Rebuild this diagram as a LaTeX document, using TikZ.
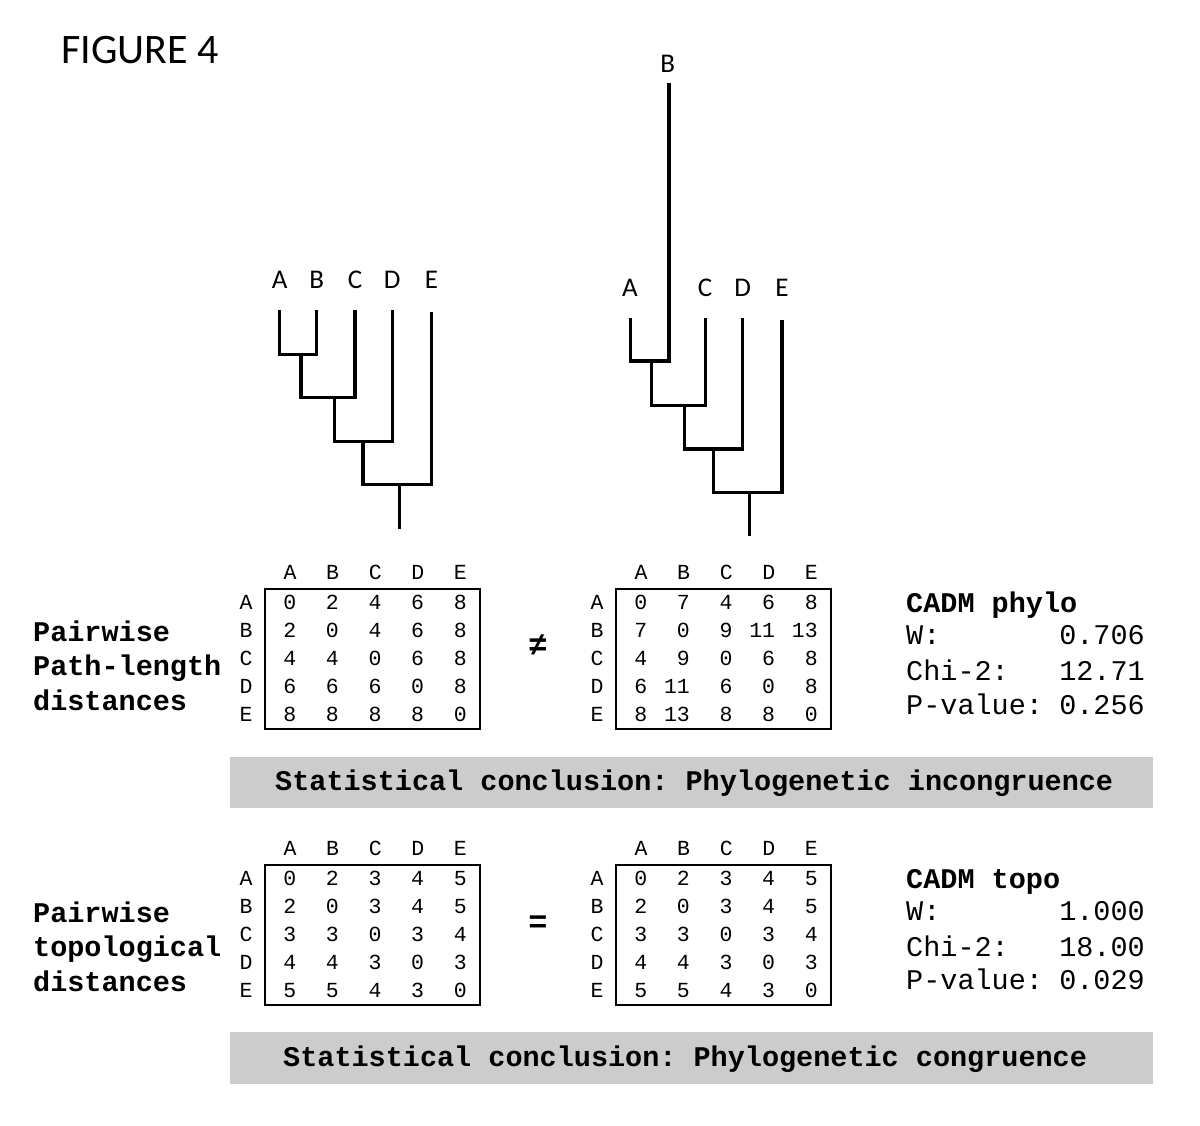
\documentclass[tikz,border=0pt]{standalone}
\usepackage{fontspec}
\newfontfamily\mono{Liberation Mono}
\newfontfamily\calib{Carlito}
\frenchspacing
\tikzset{
  hdr/.style={anchor=base,inner sep=0pt,font=\mono\fontsize{21.5}{24}\selectfont},
  cell/.style={anchor=base east,inner sep=0pt,font=\mono\fontsize{21.5}{24}\selectfont},
  matbox/.style={line width=1.8pt},
  branch/.style={line width=3.2pt,line join=miter},
  leaf/.style={anchor=base,inner sep=0pt,font=\calib\fontsize{27}{30}\selectfont},
  lbl/.style={anchor=base west,inner sep=0pt,font=\mono\bfseries\fontsize{28.5}{32}\selectfont},
  stat/.style={anchor=base west,inner sep=0pt,font=\mono\fontsize{28.5}{32}\selectfont},
  statv/.style={anchor=base east,inner sep=0pt,font=\mono\fontsize{28.5}{32}\selectfont},
  bar/.style={fill=black!20,draw=none},
  rel/.style={inner sep=0pt,font=\mono\bfseries\fontsize{32}{34}\selectfont}
}
\newcommand\distmat[4]{%
  \foreach \h [count=\j] in {A,B,C,D,E} {
    \node[hdr] (#1-h\j) at ({#2+(\j-1)*42.6},{#3+6}) {\h};
    \node[hdr] (#1-r\j) at ({#2-44},{#3+36+(\j-1)*28}) {\h};
  }
  \foreach \row [count=\i] in {#4} {
    \foreach \v [count=\j] in \row {
      \node[cell] (#1-\i-\j) at ({#2+(\j-1)*42.6+6.45},{#3+36+(\i-1)*28}) {\v};
    }
  }
  \draw[matbox] ({#2-25},{#3+16}) rectangle ({#2+190},{#3+156});
}
\begin{document}
\begin{tikzpicture}[x=1pt,y=-1pt]
\useasboundingbox (0,0) rectangle (1200,1126);
\fill[white] (0,0) rectangle (1200,1126);

\node[anchor=base west,inner sep=0pt,font=\calib\fontsize{42}{46}\selectfont] (title) at (61,64) {FIGURE 4};

% ---- tree 1
\coordinate (t1a) at (279.6,309.8);
\coordinate (t1b) at (316.8,309.8);
\coordinate (t1c) at (355,309.8);
\coordinate (t1d) at (392.1,309.8);
\coordinate (t1e) at (431.4,311.5);
\coordinate (t1n1) at (301,354.5);
\coordinate (t1n2) at (334.3,397.8);
\coordinate (t1n3) at (362.9,441.5);
\coordinate (t1n4) at (399.3,484.4);
\coordinate (t1r) at (399.3,529);
\draw[branch] (t1a) |- (t1n1) -| (t1b);
\draw[branch] (t1n1) |- (t1n2) -| (t1c);
\draw[branch] (t1n2) |- (t1n3) -| (t1d);
\draw[branch] (t1n3) |- (t1n4) -| (t1e);
\draw[branch] (t1n4) -- (t1r);
\node[leaf] (l1a) at (279.6,288) {A};
\node[leaf] (l1b) at (316.8,288) {B};
\node[leaf] (l1c) at (355,288) {C};
\node[leaf] (l1d) at (392.1,288) {D};
\node[leaf] (l1e) at (431.4,288) {E};

% ---- tree 2
\coordinate (t2a) at (630.7,318);
\coordinate (t2b) at (669,83.3);
\coordinate (t2c) at (705.3,318);
\coordinate (t2d) at (742.7,318);
\coordinate (t2e) at (782,320);
\coordinate (t2n1) at (651.7,361);
\coordinate (t2n2) at (684.6,405.7);
\coordinate (t2n3) at (713.6,449);
\coordinate (t2n4) at (749.3,492.6);
\coordinate (t2r) at (749.3,536);
\draw[branch] (t2a) |- (t2n1) -| (t2b);
\draw[branch] (t2n1) |- (t2n2) -| (t2c);
\draw[branch] (t2n2) |- (t2n3) -| (t2d);
\draw[branch] (t2n3) |- (t2n4) -| (t2e);
\draw[branch] (t2n4) -- (t2r);
\node[leaf] (l2a) at (630,296.7) {A};
\node[leaf] (l2b) at (667.7,72.3) {B};
\node[leaf] (l2c) at (705,296.7) {C};
\node[leaf] (l2d) at (742.7,296.7) {D};
\node[leaf] (l2e) at (782,296.7) {E};

% ---- path-length matrices
\distmat{pl}{290}{573}{{0,2,4,6,8},{2,0,4,6,8},{4,4,0,6,8},{6,6,6,0,8},{8,8,8,8,0}}
\distmat{pr}{641}{573}{{0,7,4,6,8},{7,0,9,11,13},{4,9,0,6,8},{6,11,6,0,8},{8,13,8,8,0}}
\node[rel] (neq) at (538,645) {≠};

\node[lbl] (p1) at (33,641) {Pairwise};
\node[lbl] (p2) at (33,675) {Path-length};
\node[lbl] (p3) at (33,710) {distances};

\node[lbl] (c1) at (906,612) {CADM phylo};
\node[stat] (c1w) at (906,644) {W:};
\node[statv] (c1wv) at (1145,644) {0.706};
\node[stat] (c1c) at (906,680) {Chi-2:};
\node[statv] (c1cv) at (1145,680) {12.71};
\node[stat] (c1p) at (906,714) {P-value:};
\node[statv] (c1pv) at (1145,714) {0.256};

\fill[bar] (230,757) rectangle (1153,808);
\node[lbl] (s1) at (275,790) {Statistical conclusion: Phylogenetic incongruence};

% ---- topological matrices
\distmat{tl}{290}{849}{{0,2,3,4,5},{2,0,3,4,5},{3,3,0,3,4},{4,4,3,0,3},{5,5,4,3,0}}
\distmat{tr}{641}{849}{{0,2,3,4,5},{2,0,3,4,5},{3,3,0,3,4},{4,4,3,0,3},{5,5,4,3,0}}
\node[rel] (eq) at (538,924) {=};

\node[lbl] (q1) at (33,922) {Pairwise};
\node[lbl] (q2) at (33,956) {topological};
\node[lbl] (q3) at (33,991) {distances};

\node[lbl] (c2) at (906,888) {CADM topo};
\node[stat] (c2w) at (906,920) {W:};
\node[statv] (c2wv) at (1145,920) {1.000};
\node[stat] (c2c) at (906,956) {Chi-2:};
\node[statv] (c2cv) at (1145,956) {18.00};
\node[stat] (c2p) at (906,989) {P-value:};
\node[statv] (c2pv) at (1145,989) {0.029};

\fill[bar] (230,1032) rectangle (1153,1084);
\node[lbl] (s2) at (283,1066) {Statistical conclusion: Phylogenetic congruence};
\end{tikzpicture}
\end{document}
